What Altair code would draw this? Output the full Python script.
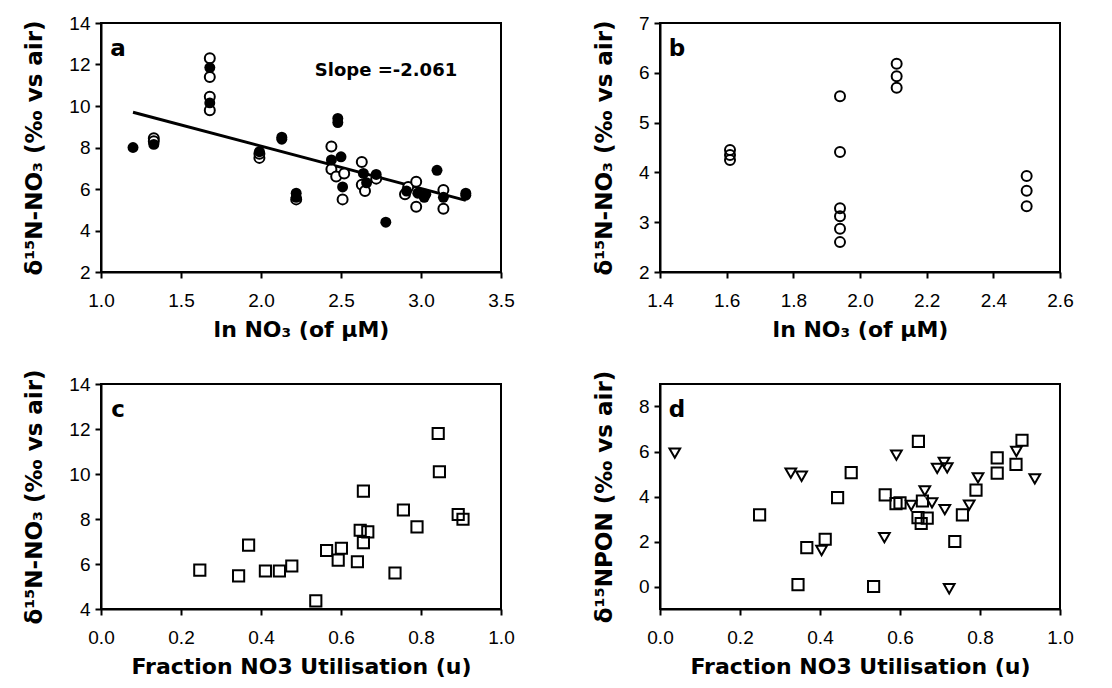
import altair as alt
import pandas as pd

# ---------------- data ----------------
# panel a : ln NO3 vs d15N-NO3 (filled and open circles) + fitted line
a_filled_x = [1.20, 1.33, 1.68, 1.68, 1.99, 2.13, 2.13, 2.22, 2.22, 2.44, 2.48, 2.48, 2.50, 2.51,
              2.64, 2.66, 2.72, 2.78, 2.91, 2.98, 3.03, 3.02, 3.10, 3.14, 3.28, 3.28]
a_filled_y = [8.0, 8.15, 11.85, 10.15, 7.8, 8.5, 8.4, 5.8, 5.6, 7.4, 9.4, 9.2, 7.55, 6.1,
              6.75, 6.3, 6.7, 4.4, 5.9, 5.8, 5.75, 5.6, 6.9, 5.6, 5.8, 5.7]
a_open_x = [1.33, 1.33, 1.68, 1.68, 1.68, 1.68, 1.99, 1.99, 2.22, 2.44, 2.44, 2.47, 2.52, 2.51,
            2.63, 2.63, 2.65, 2.72, 2.90, 2.92, 2.97, 2.97, 3.14, 3.14]
a_open_y = [8.45, 8.3, 12.3, 11.4, 10.45, 9.8, 7.5, 7.7, 5.5, 8.05, 6.95, 6.6, 6.75, 5.5,
            7.3, 6.2, 5.9, 6.5, 5.75, 6.1, 6.35, 5.15, 5.95, 5.05]
a_line_x = [1.20, 3.28]
a_line_y = [9.7, 5.45]

# panel b
b_x = [1.61, 1.61, 1.61, 1.94, 1.94, 1.94, 1.94, 1.94, 1.94, 2.11, 2.11, 2.11, 2.50, 2.50, 2.50]
b_y = [4.45, 4.35, 4.25, 5.53, 4.41, 3.28, 3.12, 2.87, 2.6, 6.18, 5.93, 5.7, 3.93, 3.63, 3.32]

# panel c
c_x = [0.247, 0.344, 0.369, 0.411, 0.446, 0.477, 0.537, 0.564, 0.593, 0.601, 0.641, 0.648,
       0.656, 0.656, 0.667, 0.735, 0.756, 0.790, 0.843, 0.846, 0.893, 0.905]
c_y = [5.73, 5.47, 6.84, 5.69, 5.69, 5.91, 4.36, 6.6, 6.17, 6.7, 6.1, 7.5,
       6.95, 9.24, 7.43, 5.6, 8.4, 7.65, 11.8, 10.1, 8.2, 7.99]

# panel d
d_sq_x = [0.249, 0.345, 0.367, 0.413, 0.444, 0.478, 0.534, 0.563, 0.590, 0.600, 0.646, 0.645,
          0.653, 0.656, 0.668, 0.737, 0.756, 0.790, 0.843, 0.843, 0.890, 0.905]
d_sq_y = [3.18, 0.08, 1.73, 2.1, 3.95, 5.06, 0.0, 4.07, 3.68, 3.72, 6.45, 3.06,
          2.8, 3.8, 3.04, 2.0, 3.18, 4.28, 5.72, 5.04, 5.43, 6.5]
d_tri_x = [0.037, 0.327, 0.354, 0.404, 0.561, 0.591, 0.628, 0.662, 0.680, 0.693, 0.710, 0.718,
           0.712, 0.723, 0.773, 0.795, 0.891, 0.937]
d_tri_y = [5.93, 5.04, 4.9, 1.6, 2.17, 5.84, 3.6, 4.25, 3.72, 5.25, 5.52, 5.27,
           3.42, -0.1, 3.62, 4.83, 6.0, 4.78]

Y_NO3 = "δ¹⁵N-NO₃ (‰ vs air)"
Y_PON = "δ¹⁵NPON (‰ vs air)"
X_LN = "ln NO₃ (of µM)"
X_U = "Fraction NO3 Utilisation (u)"

FONT = "Liberation Sans"
TFONT = "DejaVu Sans"
W = 400
H_TOP = 249
H_BOT = 225


def xenc(title, domain, ticks):
    return alt.X("x:Q", title=title,
                 scale=alt.Scale(domain=domain, nice=False, zero=False),
                 axis=alt.Axis(values=ticks, format=".1f"))


def yenc(title, domain, ticks):
    return alt.Y("y:Q", title=title,
                 scale=alt.Scale(domain=domain, nice=False, zero=False),
                 axis=alt.Axis(values=ticks, format="d"))


def letter(ch):
    return alt.Chart(pd.DataFrame({"t": [ch]})).mark_text(
        font=TFONT, fontWeight="bold", fontSize=23, align="center", baseline="middle", color="black"
    ).encode(x=alt.value(17), y=alt.value(26), text="t:N")


# ---- panel a
df_af = pd.DataFrame({"x": a_filled_x, "y": a_filled_y})
df_ao = pd.DataFrame({"x": a_open_x, "y": a_open_y})
df_al = pd.DataFrame({"x": a_line_x, "y": a_line_y})
xa = xenc(X_LN, [1.0, 3.5], [1.0, 1.5, 2.0, 2.5, 3.0, 3.5])
ya = yenc(Y_NO3, [2, 14], [2, 4, 6, 8, 10, 12, 14])
pa_line = alt.Chart(df_al).mark_line(color="black", strokeWidth=3).encode(x=xa, y=ya)
pa_open = alt.Chart(df_ao).mark_point(shape="circle", filled=False, fill="white", fillOpacity=1,
                                      stroke="black", strokeWidth=2, size=100, opacity=1).encode(x=xa, y=ya)
pa_fill = alt.Chart(df_af).mark_point(shape="circle", filled=True, color="black", size=120,
                                      opacity=1).encode(x=xa, y=ya)
slope = alt.Chart(pd.DataFrame({"t": ["Slope =-2.061"]})).mark_text(
    font=TFONT, fontWeight="bold", fontSize=18, align="center", baseline="middle", color="black"
).encode(x=alt.value(285), y=alt.value(48), text="t:N")
panel_a = alt.layer(pa_line, pa_open, pa_fill, slope, letter("a")).properties(width=W, height=H_TOP)

# ---- panel b
df_b = pd.DataFrame({"x": b_x, "y": b_y})
xb = xenc(X_LN, [1.4, 2.6], [1.4, 1.6, 1.8, 2.0, 2.2, 2.4, 2.6])
yb = yenc(Y_NO3, [2, 7], [2, 3, 4, 5, 6, 7])
pb = alt.Chart(df_b).mark_point(shape="circle", filled=False, stroke="black", strokeWidth=2,
                                size=100, opacity=1).encode(x=xb, y=yb)
panel_b = alt.layer(pb, letter("b")).properties(width=W, height=H_TOP)

# ---- panel c
df_c = pd.DataFrame({"x": c_x, "y": c_y})
xc = xenc(X_U, [0, 1], [0.0, 0.2, 0.4, 0.6, 0.8, 1.0])
yc = yenc(Y_NO3, [4, 14], [4, 6, 8, 10, 12, 14])
pc = alt.Chart(df_c).mark_point(shape="square", filled=False, stroke="black", strokeWidth=2,
                                size=125, opacity=1).encode(x=xc, y=yc)
panel_c = alt.layer(pc, letter("c")).properties(width=W, height=H_BOT)

# ---- panel d
df_ds = pd.DataFrame({"x": d_sq_x, "y": d_sq_y})
df_dt = pd.DataFrame({"x": d_tri_x, "y": d_tri_y})
xd = xenc(X_U, [0, 1], [0.0, 0.2, 0.4, 0.6, 0.8, 1.0])
yd = yenc(Y_PON, [-1, 9], [0, 2, 4, 6, 8])
pd_t = alt.Chart(df_dt).mark_point(shape="triangle-down", filled=False, stroke="black", strokeWidth=2,
                                   size=115, opacity=1).encode(x=xd, y=yd)
pd_s = alt.Chart(df_ds).mark_point(shape="square", filled=False, stroke="black", strokeWidth=2,
                                   size=125, opacity=1).encode(x=xd, y=yd)
panel_d = alt.layer(pd_t, pd_s, letter("d")).properties(width=W, height=H_BOT)

chart = alt.vconcat(
    alt.hconcat(panel_a, panel_b, spacing=76),
    alt.hconcat(panel_c, panel_d, spacing=76),
    spacing=26,
).properties(
    padding={"left": 22, "top": 13, "right": 5, "bottom": 2},
    background="white",
).configure_view(
    stroke="black", strokeWidth=2
).configure_axis(
    domainColor="black", domainWidth=2, tickColor="black", tickWidth=2, tickSize=6,
    labelFont=FONT, labelFontSize=19, labelColor="black",
    titleFont=TFONT, titleFontWeight="bold", titleColor="black",
    grid=False, labelFlush=False, labelOverlap=False,
).configure_axisY(
    titlePadding=22, titleFontSize=23, labelPadding=5,
).configure_axisX(
    titlePadding=9, titleFontSize=22, labelPadding=13,
)

chart.save("out.html", embed_options={"renderer": "svg", "actions": False})
